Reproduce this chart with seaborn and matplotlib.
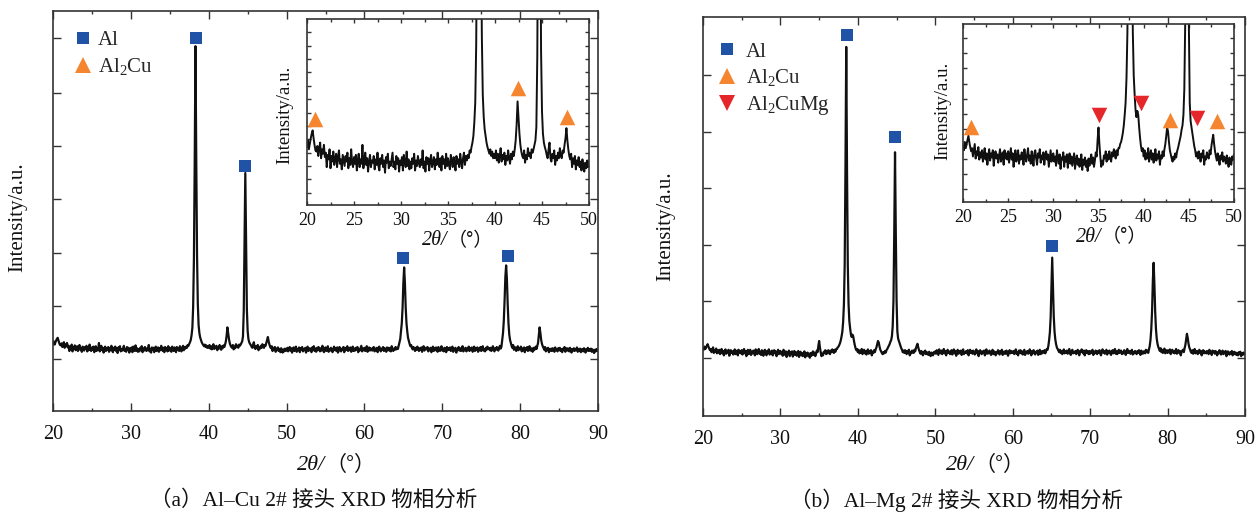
import numpy as np
import pandas as pd
import matplotlib
matplotlib.use("Agg")
import matplotlib.pyplot as plt
import seaborn as sns
from matplotlib.lines import Line2D
from matplotlib.ticker import MultipleLocator, NullFormatter

# ---------------- data ----------------
# scan grid: 20.0 .. 90.0 deg, step 0.1 deg
TWO_THETA = np.linspace(20.0, 90.0, 701)

# (a) Al-Cu 2# joint, intensity (a.u.), one row per degree (x.0 .. x.9)
AL_CU_I = [
    168, 174, 166, 171, 176, 180, 183, 176, 170, 165,
    164, 169, 160, 167, 172, 158, 166, 162, 170, 159,
    163, 150, 161, 157, 166, 149, 160, 155, 164, 152,
    158, 162, 150, 159, 165, 153, 157, 148, 161, 156,
    151, 160, 155, 163, 149, 158, 152, 166, 154, 150,
    159, 153, 161, 147, 156, 162, 150, 157, 153, 170,
    149, 157, 163, 152, 158, 146, 155, 161, 150, 156,
    154, 160, 148, 157, 152, 163, 151, 147, 158, 153,
    161, 150, 156, 145, 159, 154, 162, 149, 155, 151,
    157, 163, 150, 155, 148, 160, 153, 158, 146, 156,
    152, 159, 147, 161, 155, 150, 164, 151, 157, 148,
    155, 149, 158, 153, 162, 147, 156, 151, 160, 154,
    150, 157, 152, 165, 149, 155, 146, 159, 153, 158,
    147, 156, 161, 150, 154, 159, 148, 157, 152, 163,
    155, 150, 158, 147, 160, 153, 157, 149, 162, 151,
    158, 152, 148, 161, 155, 150, 159, 154, 147, 160,
    153, 157, 150, 162, 155, 149, 158, 163, 152, 160,
    156, 161, 158, 165, 163, 168, 172, 178, 190, 208,
    260, 380, 620, 912, 630, 390, 268, 215, 195, 184,
    178, 172, 168, 165, 162, 166, 160, 164, 158, 162,
    158, 165, 156, 162, 154, 160, 167, 155, 161, 157,
    163, 152, 160, 156, 165, 158, 153, 162, 157, 164,
    160, 166, 174, 188, 209, 195, 180, 170, 164, 160,
    158, 165, 154, 161, 157, 167, 160, 163, 158, 166,
    163, 166, 170, 174, 186, 250, 420, 595, 430, 255,
    200, 180, 172, 168, 165, 161, 158, 166, 172, 158,
    155, 162, 158, 165, 152, 160, 156, 163, 158, 167,
    160, 158, 165, 163, 170, 176, 185, 174, 166, 160,
    157, 162, 150, 158, 153, 160, 148, 156, 152, 159,
    150, 155, 147, 157, 151, 146, 154, 149, 156, 150,
    153, 158, 149, 155, 160, 151, 157, 146, 154, 159,
    150, 156, 161, 148, 155, 152, 159, 147, 157, 153,
    160, 149, 155, 152, 158, 146, 156, 161, 150, 154,
    157, 151, 147, 159, 153, 162, 150, 156, 148, 158,
    152, 160, 155, 149, 157, 151, 163, 154, 147, 156,
    159, 150, 156, 162, 148, 155, 151, 158, 153, 147,
    155, 161, 152, 157, 150, 159, 146, 154, 160, 151,
    149, 156, 153, 160, 147, 158, 152, 155, 162, 150,
    157, 152, 159, 148, 154, 161, 150, 156, 151, 158,
    153, 160, 147, 155, 151, 157, 163, 149, 156, 152,
    158, 150, 155, 162, 148, 153, 159, 151, 157, 154,
    151, 157, 160, 149, 156, 152, 158, 147, 155, 161,
    155, 149, 156, 153, 160, 150, 157, 154, 148, 159,
    152, 158, 151, 157, 149, 162, 155, 150, 156, 153,
    160, 154, 158, 155, 163, 170, 180, 199, 220, 259,
    320, 359, 320, 259, 220, 199, 183, 175, 168, 162,
    165, 158, 154, 160, 156, 150, 158, 153, 161, 155,
    150, 157, 153, 159, 148, 156, 162, 151, 155, 158,
    154, 160, 149, 156, 152, 158, 147, 155, 161, 150,
    157, 152, 159, 153, 148, 160, 155, 150, 156, 162,
    151, 156, 149, 158, 154, 147, 160, 152, 157, 153,
    159, 150, 155, 161, 148, 156, 152, 158, 146, 155,
    153, 160, 151, 157, 150, 155, 162, 149, 156, 152,
    158, 149, 156, 152, 161, 150, 157, 154, 159, 148,
    155, 161, 150, 157, 153, 159, 148, 156, 152, 160,
    150, 157, 162, 151, 155, 149, 158, 153, 161, 156,
    157, 152, 158, 150, 156, 162, 154, 149, 157, 153,
    160, 155, 151, 158, 163, 156, 161, 178, 195, 225,
    275, 335, 364, 330, 268, 220, 192, 178, 170, 163,
    158, 165, 153, 160, 156, 150, 158, 162, 152, 157,
    155, 161, 149, 156, 152, 159, 147, 157, 153, 160,
    150, 156, 162, 151, 157, 153, 148, 158, 152, 156,
    161, 155, 162, 170, 190, 209, 195, 178, 168, 162,
    158, 153, 160, 149, 156, 152, 158, 147, 155, 151,
    156, 150, 157, 153, 148, 159, 152, 155, 149, 157,
    152, 158, 150, 155, 147, 156, 153, 160, 148, 154,
    157, 151, 156, 149, 158, 152, 146, 155, 151, 157,
    150, 155, 152, 159, 148, 154, 150, 156, 147, 153,
    155, 149, 157, 152, 146, 155, 151, 158, 150, 154,
    151, 156, 148, 154, 150, 145, 153, 149, 155, 150,
    152,
]

# (b) Al-Mg 2# joint, intensity (a.u.)
AL_MG_I = [
    170, 166, 174, 168, 172, 176, 180, 174, 169, 165,
    168, 160, 166, 172, 158, 165, 161, 169, 157, 164,
    159, 166, 155, 162, 168, 157, 163, 152, 161, 167,
    156, 163, 159, 166, 151, 160, 165, 158, 162, 154,
    161, 167, 155, 160, 164, 152, 166, 158, 163, 157,
    165, 154, 161, 168, 157, 163, 150, 160, 166, 155,
    160, 166, 153, 161, 157, 164, 159, 152, 167, 158,
    155, 162, 168, 156, 161, 153, 165, 159, 151, 163,
    166, 158, 152, 163, 159, 167, 154, 161, 157, 164,
    152, 160, 165, 157, 162, 150, 158, 166, 155, 161,
    163, 155, 160, 151, 166, 158, 153, 162, 148, 159,
    157, 164, 150, 160, 155, 162, 149, 158, 163, 153,
    160, 151, 157, 163, 148, 156, 161, 152, 158, 150,
    154, 162, 147, 157, 152, 159, 150, 156, 146, 158,
    151, 157, 162, 153, 159, 150, 156, 164, 160, 176,
    188, 172, 160, 150, 156, 152, 161, 158, 165, 155,
    162, 157, 165, 159, 155, 164, 160, 167, 162, 158,
    166, 161, 168, 168, 172, 174, 178, 183, 190, 200,
    212, 236, 280, 380, 628, 925, 620, 378, 280, 238,
    220, 205, 198, 204, 200, 188, 178, 170, 165, 168,
    160, 166, 157, 163, 158, 168, 155, 161, 166, 157,
    163, 154, 160, 167, 156, 162, 158, 165, 152, 161,
    158, 165, 160, 167, 172, 180, 188, 184, 174, 166,
    162, 158, 155, 160, 157, 163, 159, 165, 168, 172,
    176, 180, 186, 190, 200, 225, 290, 460, 661, 460,
    290, 212, 194, 188, 182, 176, 170, 166, 160, 164,
    158, 165, 161, 155, 163, 159, 166, 152, 160, 157,
    164, 160, 158, 166, 162, 170, 176, 181, 172, 165,
    160, 156, 163, 158, 152, 161, 157, 164, 155, 160,
    158, 153, 161, 156, 150, 159, 155, 152, 160, 157,
    162, 156, 165, 159, 153, 167, 160, 157, 164, 155,
    161, 168, 157, 163, 152, 160, 166, 158, 162, 155,
    159, 165, 154, 161, 167, 157, 163, 151, 160, 166,
    156, 162, 158, 164, 153, 161, 167, 155, 160, 158,
    163, 157, 165, 152, 160, 166, 158, 162, 156, 164,
    160, 154, 161, 167, 157, 163, 150, 159, 165, 158,
    155, 162, 158, 164, 152, 160, 167, 156, 161, 157,
    164, 158, 153, 161, 166, 155, 162, 159, 152, 160,
    157, 165, 160, 154, 163, 158, 166, 153, 161, 156,
    162, 156, 164, 158, 151, 160, 165, 157, 163, 159,
    158, 163, 155, 161, 167, 156, 160, 152, 164, 158,
    165, 157, 162, 154, 160, 166, 153, 161, 158, 163,
    156, 161, 167, 158, 152, 163, 157, 165, 160, 154,
    161, 158, 164, 153, 160, 166, 155, 162, 157, 163,
    159, 165, 157, 162, 168, 166, 175, 190, 210, 248,
    318, 397, 320, 250, 212, 192, 180, 172, 168, 164,
    160, 166, 158, 163, 155, 161, 167, 157, 162, 159,
    164, 156, 161, 168, 158, 153, 162, 166, 157, 160,
    158, 163, 155, 161, 166, 159, 152, 163, 160, 167,
    161, 157, 164, 152, 160, 165, 158, 162, 155, 163,
    156, 162, 159, 166, 153, 160, 157, 164, 161, 155,
    163, 158, 165, 157, 152, 161, 167, 159, 163, 156,
    160, 166, 154, 162, 158, 164, 157, 153, 161, 165,
    157, 161, 168, 156, 162, 155, 160, 166, 158, 163,
    164, 155, 160, 157, 165, 159, 153, 162, 168, 158,
    159, 163, 156, 161, 166, 154, 160, 157, 163, 161,
    155, 162, 158, 165, 160, 153, 164, 159, 156, 162,
    161, 157, 166, 160, 164, 158, 167, 176, 192, 220,
    265, 340, 384, 330, 262, 218, 194, 181, 173, 168,
    163, 170, 160, 166, 158, 164, 169, 157, 162, 165,
    158, 164, 160, 167, 155, 161, 166, 159, 163, 157,
    162, 168, 156, 161, 165, 158, 163, 152, 160, 164,
    166, 160, 170, 178, 192, 206, 196, 182, 172, 167,
    161, 158, 165, 156, 162, 168, 157, 160, 163, 155,
    160, 166, 158, 163, 152, 161, 165, 157, 162, 159,
    157, 163, 160, 155, 166, 158, 161, 153, 164, 160,
    162, 156, 163, 159, 152, 160, 157, 165, 158, 154,
    159, 164, 155, 161, 157, 163, 150, 158, 162, 156,
    154, 160, 157, 163, 152, 158, 161, 155, 159, 153,
    158, 152, 160, 155, 161, 150, 157, 153, 159, 155,
    156,
]

# phase markers (2theta, height)
A_AL_X = [38.4, 44.6, 65.0, 78.4]
A_AL_Y = [933, 613, 382, 388]
A_IN_AL2CU_X = [20.8, 42.4, 47.7]
A_IN_AL2CU_Y = [193, 221, 195]

B_AL_X = [38.6, 44.85, 65.1]
B_AL_Y = [955, 698, 425]
B_IN_AL2CU_X = [20.9, 42.9, 48.1]
B_IN_AL2CU_Y = [188, 195, 194]
B_IN_AL2CUMG_X = [35.0, 39.7, 45.9]
B_IN_AL2CUMG_Y = [200, 212, 197]

LEGEND_A = ["Al", "Al$_\\mathrm{2}$Cu"]
LEGEND_B = ["Al", "Al$_\\mathrm{2}$Cu", "Al$_\\mathrm{2}$CuMg"]
CAPTION_A = "（a）Al–Cu 2# 接头 XRD 物相分析"
CAPTION_B = "（b）Al–Mg 2# 接头 XRD 物相分析"

# ---------------- styling ----------------
BLUE = "#2053a6"
ORANGE = "#f5862f"
RED = "#e5262a"
LINE = "#101010"
SPINE = "#333333"

sns.set_theme(style="white")
plt.rcParams["font.family"] = ["Liberation Serif", "Noto Sans CJK SC"]
plt.rcParams["mathtext.fontset"] = "custom"
plt.rcParams["mathtext.rm"] = "Liberation Serif"
plt.rcParams["mathtext.it"] = "Liberation Serif:italic"
plt.rcParams["axes.unicode_minus"] = False

fig = plt.figure(figsize=(12.57, 5.12), dpi=100)

axA = fig.add_axes([53 / 1257, 1 - 411 / 512, 545 / 1257, 400 / 512])
axB = fig.add_axes([703 / 1257, 1 - 416 / 512, 542 / 1257, 399 / 512])
inA = fig.add_axes([307 / 1257, 1 - 205 / 512, 282 / 1257, 186 / 512])
inB = fig.add_axes([963 / 1257, 1 - 202 / 512, 271 / 1257, 178 / 512])

dfA = pd.DataFrame({"two_theta": TWO_THETA, "intensity": AL_CU_I})
dfB = pd.DataFrame({"two_theta": TWO_THETA, "intensity": AL_MG_I})


def draw_spectrum(ax, df, lw):
    sns.lineplot(data=df, x="two_theta", y="intensity", ax=ax, color=LINE,
                 linewidth=lw, estimator=None, sort=False, zorder=2)
    ax.set_xlabel("")
    ax.set_ylabel("")


def marks(ax, xs, ys, marker, color, s):
    sns.scatterplot(x=xs, y=ys, ax=ax, marker=marker, color=color, s=s,
                    linewidth=0, zorder=5, clip_on=False)


def style(ax, major, minor, yticks, labelsize, mlen, nlen, pad):
    ax.set_facecolor("white")
    ax.set_xlim(20, 90 if major == 10 else 50)
    ax.xaxis.set_major_locator(MultipleLocator(major))
    ax.xaxis.set_minor_locator(MultipleLocator(minor))
    ax.set_yticks(yticks)
    ax.yaxis.set_major_formatter(NullFormatter())
    ax.tick_params(which="both", direction="in", top=True, right=True,
                   bottom=True, left=True, colors=SPINE, labelcolor="#111111")
    ax.tick_params(which="major", length=mlen, width=1.0, labelsize=labelsize, pad=pad)
    ax.tick_params(which="minor", length=nlen, width=1.0)
    for sp in ax.spines.values():
        sp.set_color(SPINE)
        sp.set_linewidth(1.2)
    for t in ax.get_xticklabels():
        t.set_fontfamily("Liberation Serif")


def xlabel(ax, y, size, xc=0.5):
    ax.text(xc, y, "2θ/", transform=ax.transAxes, ha="right", va="center",
            fontsize=size, fontstyle="italic", family="Liberation Serif", color="#111111")
    ax.text(xc, y, "（°）", transform=ax.transAxes, ha="left", va="center",
            fontsize=size * 0.95, family=["Noto Sans CJK SC"], color="#111111")


def ylabel(ax, x, y, size):
    ax.text(x, y, "Intensity/a.u.", transform=ax.transAxes, rotation=90,
            ha="center", va="center", fontsize=size, family="Liberation Serif",
            color="#111111")


# ---- panel (a) ----
draw_spectrum(axA, dfA, 1.6)
axA.set_ylim(0, 1000)
marks(axA, A_AL_X, A_AL_Y, "s", BLUE, 70)
style(axA, 10, 5, [131, 263, 396, 529, 663, 796, 933], 14.5, 5.5, 2.5, 10)
ylabel(axA, -0.064, 0.485, 15)
xlabel(axA, -0.135, 16)
hA = [Line2D([], [], marker="s", ls="none", color=BLUE, markersize=8.5, markeredgewidth=0),
      Line2D([], [], marker="^", ls="none", color=ORANGE, markersize=11.5, markeredgewidth=0)]
axA.legend(hA, LEGEND_A, loc="upper left", bbox_to_anchor=(0.0365, 0.951),
           frameon=False, fontsize=15, handlelength=1.0, handletextpad=0.2,
           labelspacing=0.3, borderpad=0, borderaxespad=0)

draw_spectrum(inA, dfA, 1.4)
inA.set_ylim(116, 283)
marks(inA, A_IN_AL2CU_X, A_IN_AL2CU_Y, "^", ORANGE, 125)
style(inA, 5, 2.5, list(range(127, 283, 12)), 13, 3, 2, 5)
ylabel(inA, -0.078, 0.484, 13.5)
xlabel(inA, -0.19, 14.5)

# ---- panel (b) ----
draw_spectrum(axB, dfB, 1.6)
axB.set_ylim(0, 1000)
marks(axB, B_AL_X, B_AL_Y, "s", BLUE, 80)
style(axB, 10, 5, [145, 287, 429, 571, 713, 855], 14.5, 5.5, 2.5, 10)
ylabel(axB, -0.069, 0.476, 15)
xlabel(axB, -0.123, 16)
hB = [Line2D([], [], marker="s", ls="none", color=BLUE, markersize=9, markeredgewidth=0),
      Line2D([], [], marker="^", ls="none", color=ORANGE, markersize=11.5, markeredgewidth=0),
      Line2D([], [], marker="v", ls="none", color=RED, markersize=11.5, markeredgewidth=0)]
axB.legend(hB, LEGEND_B, loc="upper left", bbox_to_anchor=(0.025, 0.9375),
           frameon=False, fontsize=15, handlelength=1.0, handletextpad=0.4,
           labelspacing=0.28, borderpad=0, borderaxespad=0)

draw_spectrum(inB, dfB, 1.4)
inB.set_ylim(116, 288)
marks(inB, B_IN_AL2CU_X, B_IN_AL2CU_Y, "^", ORANGE, 125)
marks(inB, B_IN_AL2CUMG_X, B_IN_AL2CUMG_Y, "v", RED, 125)
style(inB, 5, 2.5, [129, 143.5, 158, 172.5, 187, 201.5, 216, 230.5, 245, 259.5, 274], 13, 3, 2, 5)
ylabel(inB, -0.074, 0.51, 13.5)
xlabel(inB, -0.197, 14.5, xc=0.513)

# captions
fig.text(314 / 1257, 1 - 500 / 512, CAPTION_A, ha="center", va="center",
         fontsize=15.5, family=["Liberation Serif", "Noto Sans CJK SC"], color="#111111")
fig.text(956 / 1257, 1 - 500 / 512, CAPTION_B, ha="center", va="center",
         fontsize=15.5, family=["Liberation Serif", "Noto Sans CJK SC"], color="#111111")

fig.savefig("out.png", dpi=100, facecolor="white")
